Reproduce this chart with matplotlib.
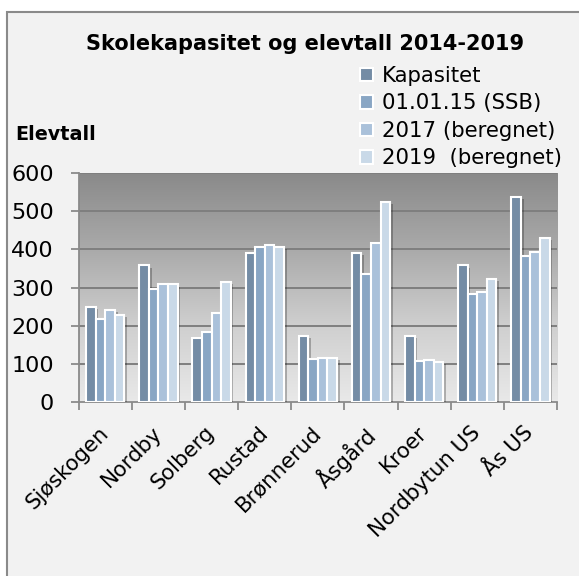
import matplotlib
matplotlib.use("Agg")
import matplotlib.pyplot as plt
import matplotlib.patheffects as pe
import matplotlib.transforms as mtrans
from matplotlib.patches import Rectangle
from matplotlib.colors import LinearSegmentedColormap
import numpy as np

categories = ["Sjøskogen", "Nordby", "Solberg", "Rustad", "Brønnerud",
              "Åsgård", "Kroer", "Nordbytun US", "Ås US"]
kapasitet = [249, 358, 168, 390, 172, 390, 173, 358, 538]
ssb_2015 = [216, 297, 184, 406, 112, 335, 108, 283, 384]
ber_2017 = [240, 308, 234, 412, 116, 418, 110, 288, 394]
ber_2019 = [227, 308, 314, 406, 116, 525, 104, 323, 431]
series_names = ["Kapasitet", "01.01.15 (SSB)", "2017 (beregnet)", "2019  (beregnet)"]
series_colors = ["#748ca5", "#89a6c4", "#aac1da", "#c9d9e8"]
yticks = [0, 100, 200, 300, 400, 500, 600]

plt.rcParams['font.family'] = ['DejaVu Sans']

W, H = 579, 576
fig = plt.figure(figsize=(W / 100, H / 100), dpi=100)
fig.patch.set_facecolor("white")

# outer chart frame
fig.patches.append(Rectangle((7 / W, -0.1), 1.2, 1 - 12 / H + 0.1,
                             transform=fig.transFigure, facecolor="#f2f2f2",
                             edgecolor="#8a8a8a", lw=1.5, zorder=-10))

left, right = 78.7 / W, 557 / W
bottom, top = 1 - 401.7 / H, 1 - 173.3 / H
ax = fig.add_axes([left, bottom, right - left, top - bottom])
ax.set_facecolor("none")

n = len(categories)
x = np.arange(n)
ax.set_xlim(-0.5, n - 0.5)
ax.set_ylim(0, 600)

# gradient background
grad = np.linspace(0, 1, 256).reshape(-1, 1)
cmap = LinearSegmentedColormap.from_list("bg", ["#e9e9e9", "#cfcfcf", "#aaaaaa", "#8a8a8a"])
ax.imshow(grad, extent=(-0.5, n - 0.5, 0, 600), origin="lower", aspect="auto",
          cmap=cmap, zorder=0)

for yv in yticks[1:]:
    ax.axhline(yv, color="#7f7f7f", lw=1.4, zorder=1)

bw = 0.18
data = [kapasitet, ssb_2015, ber_2017, ber_2019]
handles = []
for i, (vals, col, name) in enumerate(zip(data, series_colors, series_names)):
    b = ax.bar(x + (i - 1.5) * bw, vals, width=bw, color=col, edgecolor="white",
               linewidth=1.5, label=name, zorder=3)
    for p in b:
        p.set_path_effects([pe.SimplePatchShadow(offset=(2, -1.5), shadow_rgbFace="k", alpha=0.25),
                            pe.Normal()])
    handles.append(b)

ax.set_yticks(yticks)
ax.set_yticklabels([str(v) for v in yticks], fontsize=16)
ax.set_xticks(np.arange(-0.5, n, 1.0))
ax.set_xticklabels([])
ax.set_xticks(x, minor=True)
ax.set_xticklabels(categories, minor=True, rotation=45, ha="right",
                   rotation_mode="anchor", fontsize=15.3)
ax.tick_params(axis="x", which="minor", length=0, pad=10)
ax.tick_params(axis="x", which="major", length=6, color="#8a8a8a", width=1.3)
ax.tick_params(axis="y", length=6, color="#8a8a8a", width=1.3, pad=12)
shift = mtrans.ScaledTranslation(-0.07, -0.07, fig.dpi_scale_trans)
for lab in ax.get_xticklabels(minor=True):
    lab.set_transform(lab.get_transform() + shift)
for s in ["top", "right"]:
    ax.spines[s].set_visible(False)
for s in ["left", "bottom"]:
    ax.spines[s].set_color("#8a8a8a")
    ax.spines[s].set_linewidth(1.3)

fig.text(305 / W, 1 - 44 / H, "Skolekapasitet og elevtall 2014-2019", ha="center",
         va="center", fontsize=15, fontweight="bold")
fig.text(15 / W, 1 - 135 / H, "Elevtall", ha="left", va="center", fontsize=13.8,
         fontweight="bold")

leg = fig.legend(handles=handles, labels=series_names, loc="upper left",
                 bbox_to_anchor=(360 / W, 1 - 66 / H), frameon=False, fontsize=15.3,
                 handlelength=0.62, handleheight=0.62, handletextpad=0.4,
                 labelspacing=0.35, borderpad=0, borderaxespad=0)
for h in leg.legend_handles:
    h.set_path_effects([])

fig.savefig("out.png", dpi=100, facecolor=fig.get_facecolor())
